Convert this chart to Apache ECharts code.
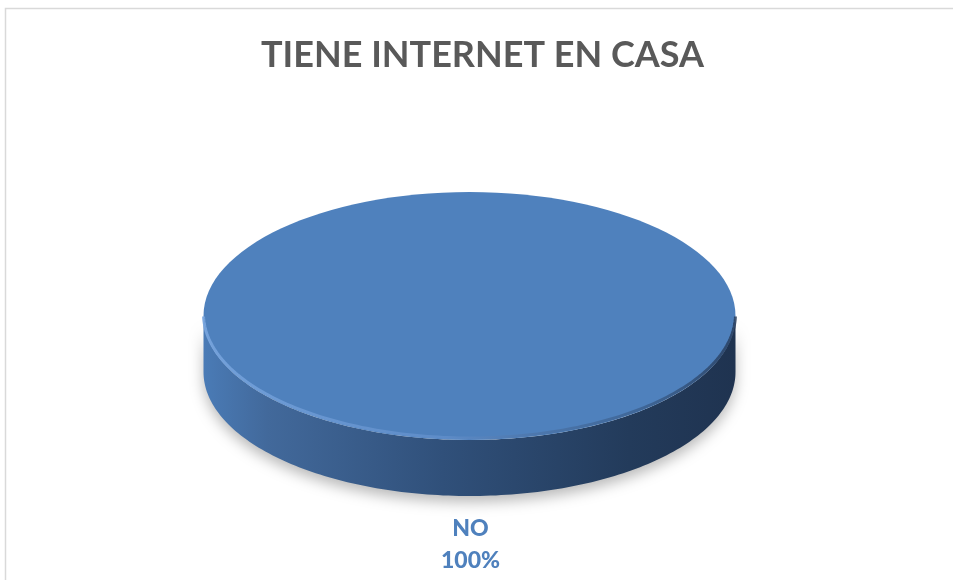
<!DOCTYPE html>
<html>
<head>
<meta charset="utf-8">
<script src="https://cdn.jsdelivr.net/npm/echarts@6/dist/echarts.min.js"></script>
<style>
  html, body { margin: 0; padding: 0; background: #fff; }
  #chart { width: 953px; height: 580px; }
</style>
</head>
<body>
<div id="chart"></div>
<script>
const titleText = 'TIENE INTERNET EN CASA';
const categories = ['NO'];
const values = [100];

const total = values.reduce((a, b) => a + b, 0);

// pie geometry (flattened 3D look)
const CX = 469.5, CY = 316, RX = 266, RY = 124, DEPTH = 56;

function pt(theta, dy) {
  return [CX + RX * Math.cos(theta), CY + RY * Math.sin(theta) + (dy || 0)];
}

function arcPoints(a, b, dy) {
  const pts = [];
  const n = Math.max(8, Math.ceil(Math.abs(b - a) / 0.02));
  for (let i = 0; i <= n; i++) {
    pts.push(pt(a + (b - a) * i / n, dy));
  }
  return pts;
}

const chart = echarts.init(document.getElementById('chart'));

chart.setOption({
  backgroundColor: '#fff',
  animation: false,
  title: {
    text: titleText,
    left: 261,
    top: 37,
    padding: 0,
    textStyle: {fontFamily: 'Lato', fontWeight: 'bold', fontSize: 36, color: '#595959'}
  },
  graphic: [{
    type: 'rect',
    shape: {x: 5.5, y: 8.5, width: 1000, height: 700},
    style: {fill: 'none', stroke: '#d9d9d9', lineWidth: 1.5},
    silent: true
  }],
  series: [{
    type: 'custom',
    coordinateSystem: 'none',
    data: categories.map((c, i) => ({name: c, value: values[i]})),
    renderItem: function (params, api) {
      const i = params.dataIndex;
      let before = 0;
      for (let k = 0; k < i; k++) before += values[k];
      const f0 = before / total;
      const f1 = (before + values[i]) / total;
      const t0 = -Math.PI / 2 + f0 * Math.PI * 2;
      const t1 = -Math.PI / 2 + f1 * Math.PI * 2;
      const full = f1 - f0 >= 0.9999;
      const children = [];

      // side wall: visible part is where sin(theta) >= 0
      const s0 = Math.max(t0, 0), s1 = Math.min(t1, Math.PI);
      if (s1 > s0) {
        const top = arcPoints(s0, s1, 0);
        const bottom = arcPoints(s1, s0, DEPTH);
        children.push({
          type: 'polygon',
          shape: {points: top.concat(bottom)},
          style: {
            fill: new echarts.graphic.LinearGradient(0, 0, 1, 0, [
              {offset: 0, color: '#4a7bb6'},
              {offset: 0.12, color: '#42699b'},
              {offset: 0.45, color: '#30507a'},
              {offset: 0.8, color: '#233b5b'},
              {offset: 1, color: '#1f3350'}
            ]),
            shadowColor: 'rgba(0,0,0,0.28)',
            shadowBlur: 14,
            shadowOffsetY: 6
          }
        });
      }

      // top face
      if (full) {
        children.push({
          type: 'ellipse',
          shape: {cx: CX, cy: CY, rx: RX, ry: RY},
          style: {fill: '#4f81bd'}
        });
      } else {
        children.push({
          type: 'polygon',
          shape: {points: [[CX, CY]].concat(arcPoints(t0, t1, 0))},
          style: {fill: '#4f81bd'}
        });
      }

      // bevel highlight on the front rim
      const h0 = Math.max(t0, 0.02), h1 = Math.min(t1, Math.PI - 0.02);
      if (h1 > h0) {
        children.push({
          type: 'polyline',
          shape: {points: arcPoints(h1, h0, -2)},
          style: {
            fill: null,
            lineWidth: 3,
            stroke: new echarts.graphic.LinearGradient(0, 0, 1, 0, [
              {offset: 0, color: 'rgba(120,165,222,0.9)'},
              {offset: 0.45, color: 'rgba(100,145,205,0.7)'},
              {offset: 0.8, color: 'rgba(50,80,120,0.5)'},
              {offset: 1, color: 'rgba(35,55,85,0.8)'}
            ])
          }
        });
      }

      // data label below the slice middle
      const mid = (t0 + t1) / 2;
      const lp = pt(mid, DEPTH);
      const pct = Math.round(values[i] / total * 100) + '%';
      children.push({
        type: 'text',
        style: {
          x: lp[0] + 1,
          y: lp[1] + 17,
          text: categories[i] + '\n' + pct,
          align: 'center',
          verticalAlign: 'top',
          font: '900 23px Lato',
          lineHeight: 32,
          fill: '#4f81bd'
        }
      });

      return {type: 'group', children: children};
    }
  }]
});
</script>
</body>
</html>
